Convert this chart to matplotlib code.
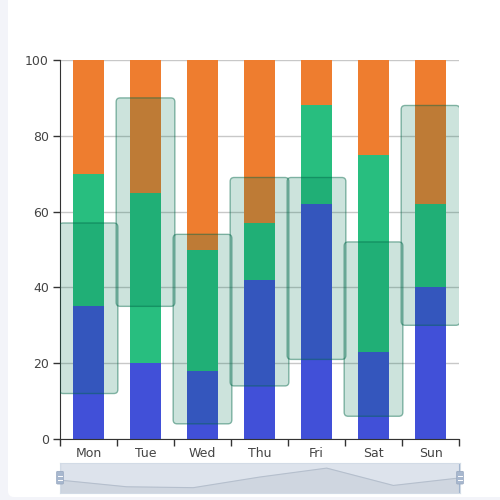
import matplotlib.pyplot as plt
from matplotlib.patches import FancyBboxPatch

days = ['Mon', 'Tue', 'Wed', 'Thu', 'Fri', 'Sat', 'Sun']
blue = [35, 20, 18, 42, 62, 23, 40]
green = [35, 45, 32, 15, 26, 52, 22]
orange = [30, 35, 50, 43, 12, 25, 38]
box_low = [12, 35, 4, 14, 21, 6, 30]
box_high = [57, 90, 54, 69, 69, 52, 88]

fig = plt.figure(figsize=(5, 5), dpi=100, facecolor='#f3f4f9')
# white card behind everything
bg = fig.add_axes([0, 0, 1, 1], zorder=-10)
bg.set_xlim(0, 1)
bg.set_ylim(0, 1)
bg.axis('off')
bg.add_patch(FancyBboxPatch((0.016, 0.006), 1.1, 1.1,
                            boxstyle='round,pad=0,rounding_size=0.012',
                            facecolor='white', edgecolor='none'))

ax = fig.add_axes([0.12, 0.122, 0.798, 0.758])
ax.set_facecolor('none')
x = list(range(len(days)))
bw = 0.53
ax.bar(x, blue, bw, color='#4150d8', zorder=2)
bottom2 = [b for b in blue]
ax.bar(x, green, bw, bottom=bottom2, color='#28be7f', zorder=2)
bottom3 = [b + g for b, g in zip(blue, green)]
ax.bar(x, orange, bw, bottom=bottom3, color='#ee7d2f', zorder=2)

box_w = 1.03
for i, (lo, hi) in enumerate(zip(box_low, box_high)):
    p = FancyBboxPatch((i - box_w / 2, lo), box_w, hi - lo,
                       boxstyle='round,pad=0,rounding_size=0.07',
                       mutation_aspect=15,
                       facecolor=(0, 0.45, 0.33, 0.2),
                       edgecolor=(0, 0.4, 0.28, 0.45), linewidth=1, zorder=3)
    ax.add_patch(p)

ax.set_xlim(-0.5, 6.5)
ax.set_ylim(0, 100)
ax.set_yticks([0, 20, 40, 60, 80, 100])
ax.grid(axis='y', color='#c8c8c8', linewidth=1, zorder=1)
ax.set_axisbelow(True)
ax.set_xticks(x)
ax.set_xticklabels(days)
ax.set_xticks([i - 0.5 for i in range(len(days) + 1)], minor=True)
ax.tick_params(axis='x', which='major', length=0, pad=6, labelsize=9, labelcolor='#444')
ax.tick_params(axis='x', which='minor', length=5, width=1, color='#333')
ax.tick_params(axis='y', length=5, width=1, color='#333', labelsize=9, labelcolor='#444', pad=3)
for s in ['top', 'right']:
    ax.spines[s].set_visible(False)
ax.spines['left'].set_color('#333')
ax.spines['bottom'].set_color('#333')

# data zoom slider
sx = fig.add_axes([0.12, 0.014, 0.8, 0.06])
sx.set_facecolor('#dde3ec')
sx.plot(x, blue, color='#b5bfcd', linewidth=0.8)
sx.fill_between(x, blue, 0, color='#cfd6e0')
sx.set_xlim(0, 6)
sx.set_ylim(6, 73.5)
sx.set_xticks([])
sx.set_yticks([])
for s in sx.spines.values():
    s.set_color('#d2dbe6')
sx.axvline(0, color='#9fb2cc', linewidth=1.5)
sx.axvline(6, color='#9fb2cc', linewidth=1.5)
for hx in [0, 6]:
    sx.add_patch(FancyBboxPatch((hx - 0.05, 0.3), 0.1, 0.42,
                                boxstyle='round,pad=0,rounding_size=0.02',
                                transform=sx.get_xaxis_transform(),
                                facecolor='#a8b8cf', edgecolor='#9aaac2',
                                linewidth=0.6, clip_on=False, zorder=5))
    sx.plot([hx - 0.025, hx + 0.025], [0.45, 0.45], color='white', linewidth=0.7,
            transform=sx.get_xaxis_transform(), clip_on=False, zorder=6)
    sx.plot([hx - 0.025, hx + 0.025], [0.57, 0.57], color='white', linewidth=0.7,
            transform=sx.get_xaxis_transform(), clip_on=False, zorder=6)

fig.savefig('out.png', dpi=100, facecolor=fig.get_facecolor())
